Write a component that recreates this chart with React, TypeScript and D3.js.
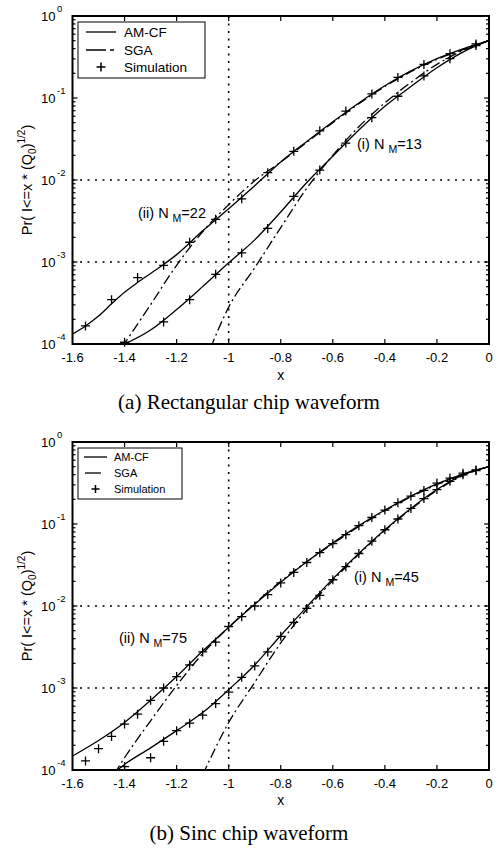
import React from 'react';
import * as d3 from 'd3';

// ---------- axes ----------
const xTicks = [-1.6, -1.4, -1.2, -1, -0.8, -0.6, -0.4, -0.2, 0];
const xTickLabels = ['-1.6', '-1.4', '-1.2', '-1', '-0.8', '-0.6', '-0.4', '-0.2', '0'];
const yTickValues = [1, 1e-1, 1e-2, 1e-3, 1e-4];
const yTickExponents = ['0', '-1', '-2', '-3', '-4'];
const legendNames = ['AM-CF', 'SGA', 'Simulation'];

// ---------- (a) Rectangular chip waveform ----------
// (ii) N_M = 22
const rectAmcf2X = [-1.6, -1.55, -1.5, -1.45, -1.4, -1.35, -1.3, -1.25, -1.2, -1.1, -1.0, -0.9, -0.8, -0.7, -0.6, -0.5, -0.4, -0.3, -0.2, -0.1, 0];
const rectAmcf2P = [1.32e-4, 1.66e-4, 2.19e-4, 3.09e-4, 4.27e-4, 5.62e-4, 7.24e-4, 9.33e-4, 1.23e-3, 2.4e-3, 4.47e-3, 8.51e-3, 1.66e-2, 2.95e-2, 5.13e-2, 8.71e-2, 0.141, 0.214, 0.302, 0.398, 0.501];
const rectSga2X = [-1.41, -1.3, -1.2, -1.1, -1.0, -0.9, -0.8, -0.7, -0.6, -0.5, -0.4, -0.3, -0.2, -0.1, 0];
const rectSga2P = [9.12e-5, 3.02e-4, 9.12e-4, 2.34e-3, 5.01e-3, 9.77e-3, 1.66e-2, 2.88e-2, 5.01e-2, 8.51e-2, 0.138, 0.209, 0.295, 0.389, 0.501];
const rectSim2X = [-1.55, -1.45, -1.35, -1.25, -1.15, -1.05, -0.95, -0.85, -0.75, -0.65, -0.55, -0.45, -0.35, -0.25, -0.15, -0.05];
const rectSim2P = [1.66e-4, 3.47e-4, 6.46e-4, 9.12e-4, 1.74e-3, 3.31e-3, 5.89e-3, 1.23e-2, 2.24e-2, 3.98e-2, 6.92e-2, 0.112, 0.178, 0.257, 0.347, 0.457];
// (i) N_M = 13
const rectAmcf1X = [-1.42, -1.3, -1.2, -1.1, -1.0, -0.9, -0.8, -0.7, -0.6, -0.5, -0.4, -0.3, -0.2, -0.1, 0];
const rectAmcf1P = [9.33e-5, 1.48e-4, 2.63e-4, 5.01e-4, 9.77e-4, 1.86e-3, 4.07e-3, 9.33e-3, 1.95e-2, 4.07e-2, 7.94e-2, 0.138, 0.234, 0.363, 0.501];
const rectSga1X = [-1.07, -1.0, -0.9, -0.8, -0.7, -0.6, -0.5, -0.4, -0.3, -0.2, -0.1, 0];
const rectSga1P = [8.91e-5, 2.82e-4, 8.51e-4, 2.63e-3, 7.94e-3, 2.0e-2, 4.47e-2, 8.71e-2, 0.155, 0.257, 0.38, 0.501];
const rectSim1X = [-1.4, -1.25, -1.15, -1.05, -0.95, -0.85, -0.75, -0.65, -0.55, -0.45, -0.35, -0.25, -0.15, -0.05];
const rectSim1P = [1.05e-4, 1.86e-4, 3.47e-4, 7.08e-4, 1.29e-3, 2.57e-3, 6.31e-3, 1.32e-2, 2.82e-2, 5.75e-2, 0.105, 0.186, 0.302, 0.437];

// ---------- (b) Sinc chip waveform ----------
// (ii) N_M = 75
const sincAmcf2X = [-1.6, -1.5, -1.4, -1.3, -1.2, -1.1, -1.0, -0.9, -0.8, -0.7, -0.6, -0.5, -0.4, -0.3, -0.2, -0.1, 0];
const sincAmcf2P = [1.48e-4, 2.29e-4, 3.8e-4, 7.08e-4, 1.38e-3, 2.82e-3, 5.5e-3, 1.05e-2, 1.95e-2, 3.47e-2, 5.89e-2, 9.55e-2, 0.148, 0.219, 0.309, 0.407, 0.501];
const sincSga2X = [-1.44, -1.4, -1.3, -1.2, -1.1, -1.0, -0.9, -0.8, -0.7, -0.6, -0.5, -0.4, -0.3, -0.2, -0.1, 0];
const sincSga2P = [8.91e-5, 1.41e-4, 3.98e-4, 1.07e-3, 2.63e-3, 5.5e-3, 1.07e-2, 2.0e-2, 3.47e-2, 5.75e-2, 9.33e-2, 0.145, 0.214, 0.302, 0.398, 0.501];
const sincSim2X = [-1.55, -1.5, -1.45, -1.4, -1.35, -1.3, -1.25, -1.2, -1.15, -1.1, -1.05, -1.0, -0.95, -0.9, -0.85, -0.8, -0.75, -0.7, -0.65, -0.6, -0.55, -0.5, -0.45, -0.4, -0.35, -0.3, -0.25, -0.2, -0.15, -0.1, -0.05];
const sincSim2P = [1.29e-4, 1.82e-4, 2.57e-4, 3.63e-4, 4.79e-4, 7.08e-4, 1.0e-3, 1.38e-3, 1.91e-3, 2.75e-3, 3.63e-3, 5.62e-3, 7.41e-3, 1.0e-2, 1.38e-2, 1.91e-2, 2.57e-2, 3.39e-2, 4.47e-2, 5.75e-2, 7.41e-2, 9.55e-2, 0.12, 0.148, 0.182, 0.219, 0.257, 0.316, 0.363, 0.417, 0.457];
// (i) N_M = 45
const sincAmcf1X = [-1.44, -1.4, -1.3, -1.2, -1.1, -1.0, -0.9, -0.8, -0.7, -0.6, -0.5, -0.4, -0.3, -0.2, -0.1, 0];
const sincAmcf1P = [9.33e-5, 1.17e-4, 1.86e-4, 3.02e-4, 5.01e-4, 9.55e-4, 1.91e-3, 4.37e-3, 9.77e-3, 2.14e-2, 4.37e-2, 8.51e-2, 0.155, 0.263, 0.398, 0.501];
const sincSga1X = [-1.1, -1.0, -0.9, -0.8, -0.7, -0.6, -0.5, -0.4, -0.3, -0.2, -0.1, 0];
const sincSga1P = [8.71e-5, 3.8e-4, 1.17e-3, 3.55e-3, 9.12e-3, 2.04e-2, 4.27e-2, 8.32e-2, 0.151, 0.257, 0.389, 0.501];
const sincSim1X = [-1.4, -1.3, -1.25, -1.2, -1.15, -1.1, -1.05, -1.0, -0.95, -0.9, -0.85, -0.8, -0.75, -0.7, -0.65, -0.6, -0.55, -0.5, -0.45, -0.4, -0.35, -0.3, -0.25, -0.2, -0.15, -0.1, -0.05];
const sincSim1P = [1.1e-4, 1.41e-4, 2.24e-4, 3.02e-4, 3.72e-4, 4.68e-4, 6.46e-4, 8.91e-4, 1.35e-3, 1.86e-3, 2.75e-3, 4.27e-3, 6.31e-3, 9.33e-3, 1.35e-2, 2.09e-2, 3.02e-2, 4.37e-2, 6.17e-2, 8.51e-2, 0.115, 0.155, 0.204, 0.263, 0.331, 0.398, 0.447];

type Pt = [number, number];
const zip = (xs: number[], ps: number[]): Pt[] => xs.map((v, i) => [v, ps[i]] as Pt);

const SANS = "'Liberation Sans', Arial, sans-serif";
const SERIF = "'Liberation Serif', 'Times New Roman', serif";
const SGA_DASH = '10,3.5,2,3.5';

interface Note { x: number; y: number; pre: string; post: string }
interface PanelProps {
  top: number;
  amcf: Pt[][];
  sga: Pt[][];
  sims: Pt[][];
  notes: Note[];
  big: boolean;
  caption: string;
  captionY: number;
  xLabelY: number;
}

function Panel({ top, amcf, sga, sims, notes, big, caption, captionY, xLabelY }: PanelProps) {
  const L = 72.5, R = 489, T = top, B = top + 328;
  const x = d3.scaleLinear().domain([-1.6, 0]).range([L, R]);
  const y = d3.scaleLog().domain([1e-4, 1]).range([B, T]);
  const line = d3.line<Pt>().x(d => x(d[0])).y(d => y(d[1])).curve(d3.curveMonotoneX);
  const clipId = `clip-${top}`;

  const minor: number[] = [];
  for (let e = -4; e < 0; e++) for (let k = 2; k <= 9; k++) minor.push(k * Math.pow(10, e));

  // legend geometry
  const lg = big
    ? { x0: 78, y0: 22, x1: 205, y1: 78, rows: [32, 50, 67], lx0: 86, lx1: 116, tx: 124, fs: 13.5 }
    : { x0: 78, y0: 448, x1: 182, y1: 499, rows: [457, 473, 489], lx0: 84, lx1: 107, tx: 114, fs: 11 };

  const plus = (cx: number, cy: number, s = 4.5) => `M${cx - s},${cy}h${2 * s}M${cx},${cy - s}v${2 * s}`;

  return (
    <g>
      <defs>
        <clipPath id={clipId}>
          <rect x={L} y={T} width={R - L} height={B - T} />
        </clipPath>
      </defs>
      {/* dotted reference lines */}
      <g stroke="#000" strokeWidth={1.6} strokeDasharray="2,5.5" fill="none">
        <line x1={x(-1)} x2={x(-1)} y1={T} y2={B} />
        <line x1={L} x2={R} y1={y(1e-2)} y2={y(1e-2)} />
        <line x1={L} x2={R} y1={y(1e-3)} y2={y(1e-3)} />
      </g>
      <g clipPath={`url(#${clipId})`} fill="none" stroke="#000" strokeWidth={1.3}>
        {amcf.map((s, i) => <path key={'a' + i} d={line(s) || ''} />)}
        {sga.map((s, i) => <path key={'s' + i} d={line(s) || ''} strokeDasharray={SGA_DASH} />)}
      </g>
      <g fill="none" stroke="#000" strokeWidth={1.3}>
        {sims.map((s, i) => (
          <path key={'m' + i} d={s.map(d => plus(x(d[0]), y(d[1]))).join('')} />
        ))}
      </g>
      {/* axes box */}
      <rect x={L} y={T} width={R - L} height={B - T} fill="none" stroke="#000" strokeWidth={2} />
      <g stroke="#000" strokeWidth={1.2}>
        {xTicks.slice(1, -1).map(t => (
          <g key={'xt' + t}>
            <line x1={x(t)} x2={x(t)} y1={B} y2={B - 5} />
            <line x1={x(t)} x2={x(t)} y1={T} y2={T + 5} />
          </g>
        ))}
        {yTickValues.slice(1, -1).map(v => (
          <g key={'yt' + v}>
            <line x1={L} x2={L + 5} y1={y(v)} y2={y(v)} />
            <line x1={R} x2={R - 5} y1={y(v)} y2={y(v)} />
          </g>
        ))}
        {minor.map(v => (
          <g key={'ym' + v}>
            <line x1={L} x2={L + 3} y1={y(v)} y2={y(v)} />
            <line x1={R} x2={R - 3} y1={y(v)} y2={y(v)} />
          </g>
        ))}
      </g>
      {/* tick labels */}
      <g fontFamily={SANS} fill="#000">
        {xTicks.map((t, i) => (
          <text key={'xl' + i} x={x(t)} y={B + 18} fontSize={13} textAnchor="middle">{xTickLabels[i]}</text>
        ))}
        {yTickValues.map((v, i) => (
          <g key={'yl' + i}>
            <text x={55.5} y={y(v) + 4.5} fontSize={13} textAnchor="end">10</text>
            <text x={57} y={y(v) - 4} fontSize={9.5}>{yTickExponents[i]}</text>
          </g>
        ))}
        <text x={(L + R) / 2} y={xLabelY} fontSize={14} textAnchor="middle">x</text>
        <text transform={`translate(32,${(T + B) / 2}) rotate(-90)`} fontSize={14.5} textAnchor="middle">
          Pr( I&lt;=x * (Q<tspan fontSize={10} dy={4}>0</tspan><tspan dy={-4}>)</tspan>
          <tspan fontSize={10} dy={-7}>1/2</tspan><tspan dy={7}>)</tspan>
        </text>
        {notes.map((n, i) => (
          <text key={'n' + i} x={n.x} y={n.y} fontSize={14.5}>
            {n.pre}<tspan fontSize={10.5} dx={4} dy={4}>M</tspan><tspan dy={-4}>{n.post}</tspan>
          </text>
        ))}
      </g>
      {/* legend */}
      <g>
        <rect x={lg.x0} y={lg.y0} width={lg.x1 - lg.x0} height={lg.y1 - lg.y0} fill="#fff" stroke="#000" strokeWidth={1} />
        <line x1={lg.lx0} x2={lg.lx1} y1={lg.rows[0]} y2={lg.rows[0]} stroke="#000" strokeWidth={1.3} />
        {big ? (
          <path d={`M${lg.lx0},${lg.rows[1]}h20M${lg.lx0 + 24},${lg.rows[1]}h4`} stroke="#000" strokeWidth={1.3} />
        ) : (
          <path d={`M${lg.lx0 + 1},${lg.rows[1]}h16`} stroke="#000" strokeWidth={1.3} />
        )}
        <path d={plus((lg.lx0 + lg.lx1) / 2, lg.rows[2], big ? 4.5 : 4)} stroke="#000" strokeWidth={1.5} fill="none" />
        {legendNames.map((nm, i) => (
          <text key={nm} x={lg.tx} y={lg.rows[i] + lg.fs * 0.36} fontSize={lg.fs} fontFamily={SANS}>{nm}</text>
        ))}
      </g>
      <text x={249} y={captionY} fontSize={21} fontFamily={SERIF} textAnchor="middle">{caption}</text>
    </g>
  );
}

export default function App() {
  return (
    <svg width={501} height={853} style={{ position: 'absolute', left: 0, top: 0, background: '#fff' }}>
      <rect width={501} height={853} fill="#fff" />
      <Panel
        top={16}
        amcf={[zip(rectAmcf2X, rectAmcf2P), zip(rectAmcf1X, rectAmcf1P)]}
        sga={[zip(rectSga2X, rectSga2P), zip(rectSga1X, rectSga1P)]}
        sims={[zip(rectSim2X, rectSim2P), zip(rectSim1X, rectSim1P)]}
        notes={[
          { x: 138, y: 218, pre: '(ii) N', post: '=22' },
          { x: 357, y: 149, pre: '(i) N', post: '=13' },
        ]}
        big={true}
        caption="(a) Rectangular chip waveform"
        captionY={409}
        xLabelY={380}
      />
      <Panel
        top={442}
        amcf={[zip(sincAmcf2X, sincAmcf2P), zip(sincAmcf1X, sincAmcf1P)]}
        sga={[zip(sincSga2X, sincSga2P), zip(sincSga1X, sincSga1P)]}
        sims={[zip(sincSim2X, sincSim2P), zip(sincSim1X, sincSim1P)]}
        notes={[
          { x: 119, y: 643, pre: '(ii) N', post: '=75' },
          { x: 354, y: 582, pre: '(i) N', post: '=45' },
        ]}
        big={false}
        caption="(b) Sinc chip waveform"
        captionY={840}
        xLabelY={805}
      />
    </svg>
  );
}
